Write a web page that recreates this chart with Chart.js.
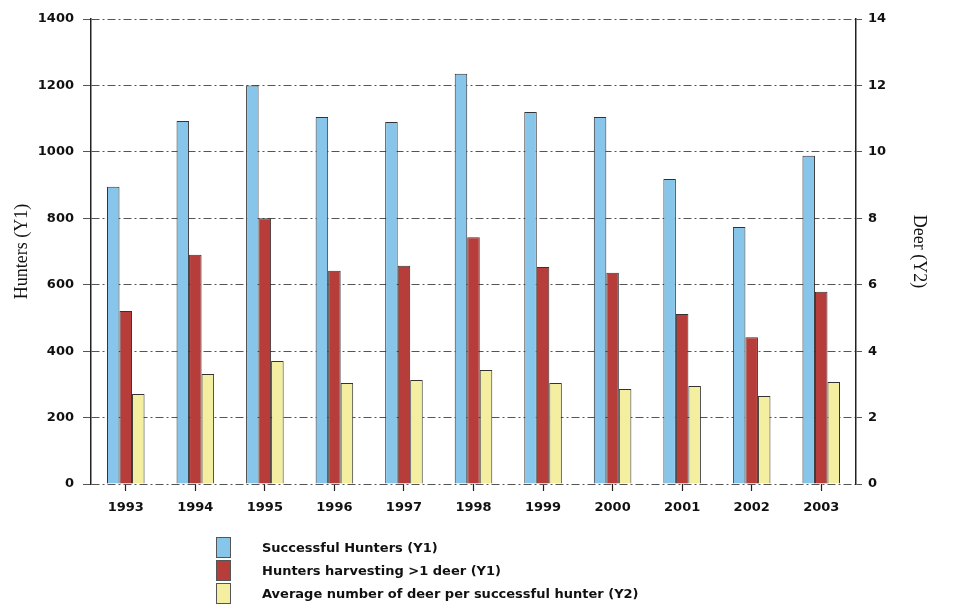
<!DOCTYPE html>
<html>
<head>
<meta charset="utf-8">
<script src="https://cdn.jsdelivr.net/npm/chart.js@4.4.1/dist/chart.umd.min.js"></script>
<style>
  html, body { margin: 0; padding: 0; background: #fff; }
  #wrap { position: relative; width: 969px; height: 604px; }
  #legend { position: absolute; left: 216px; top: 536px; font: bold 13px "DejaVu Sans", sans-serif; color: #111; }
  #legend .row { height: 23px; display: flex; align-items: center; }
  #legend .box { width: 15px; height: 21px; margin-right: 31px; box-sizing: border-box; border: 1px solid #555; }
</style>
</head>
<body>
<div id="wrap">
  <canvas id="hunters_chart" width="969" height="604"></canvas>
  <div id="legend"></div>
</div>
<script>
var years = ['1993', '1994', '1995', '1996', '1997', '1998', '1999', '2000', '2001', '2002', '2003'];
var successful_hunters = [895, 1093, 1200, 1105, 1090, 1235, 1120, 1105, 918, 774, 988];
var hunters_more_than_one = [521, 690, 800, 642, 657, 743, 653, 636, 512, 442, 579];
var avg_deer_per_hunter = [2.71, 3.31, 3.70, 3.04, 3.13, 3.43, 3.04, 2.86, 2.95, 2.65, 3.07];

var series_labels = ['Successful Hunters (Y1)', 'Hunters harvesting >1 deer (Y1)', 'Average number of deer per successful hunter (Y2)'];
var series_colors = ['#87c6ea', '#b73d3a', '#f4eea0'];

var gridDash = [8, 3, 2, 3];
var tickFont = { family: 'DejaVu Sans', size: 13, weight: 'bold' };
var titleFont = { family: 'Liberation Serif', size: 18 };

var data = {
  labels: years,
  datasets: [
    { label: series_labels[0], data: successful_hunters, backgroundColor: series_colors[0], yAxisID: 'y' },
    { label: series_labels[1], data: hunters_more_than_one, backgroundColor: series_colors[1], yAxisID: 'y' },
    { label: series_labels[2], data: avg_deer_per_hunter, backgroundColor: series_colors[2], yAxisID: 'y2' }
  ]
};
data.datasets.forEach(function(ds) {
  ds.borderColor = '#333';
  ds.borderWidth = 1;
  ds.barPercentage = 1;
  ds.categoryPercentage = 0.54;
});

var plainNumber = function(value) { return String(value); };

var chart = new Chart(document.getElementById('hunters_chart').getContext('2d'), {
  type: 'bar',
  data: data,
  options: {
    responsive: false,
    animation: false,
    devicePixelRatio: 1,
    layout: { padding: { top: 19, left: 11, right: 39, bottom: 90 } },
    plugins: {
      legend: { display: false },
      tooltip: { enabled: false }
    },
    scales: {
      x: {
        grid: { display: true, drawOnChartArea: false, offset: false, tickLength: 7, tickColor: '#222', tickWidth: 1.2 },
        border: { display: false },
        ticks: { font: tickFont, color: '#111', padding: 9, maxRotation: 0 },
        afterFit: function(scale) { scale.height = 30; }
      },
      y: {
        position: 'left',
        min: 0,
        max: 1400,
        ticks: { stepSize: 200, font: tickFont, color: '#111', padding: 9, callback: plainNumber },
        grid: { color: '#555', lineWidth: 1, tickLength: 8, tickBorderDash: gridDash },
        border: { display: true, color: '#222', width: 1.5, dash: gridDash },
        title: { display: true, text: 'Hunters (Y1)', font: titleFont, color: '#111', padding: 0 },
        afterFit: function(scale) { scale.width = 80; }
      },
      y2: {
        position: 'right',
        min: 0,
        max: 14,
        ticks: { stepSize: 2, font: tickFont, color: '#111', padding: 6, callback: plainNumber },
        grid: { drawOnChartArea: false, color: '#555', tickLength: 6, tickBorderDash: gridDash },
        border: { display: true, color: '#222', width: 1.5 },
        title: { display: true, text: 'Deer (Y2)', font: titleFont, color: '#111', padding: 0 },
        afterFit: function(scale) { scale.width = 74; }
      }
    }
  }
});

// legend as a plain list, one series per row like the original
var legendDiv = document.getElementById('legend');
data.datasets.forEach(function(ds) {
  var row = document.createElement('div');
  row.className = 'row';
  var box = document.createElement('span');
  box.className = 'box';
  box.style.background = ds.backgroundColor;
  var txt = document.createElement('span');
  txt.textContent = ds.label;
  row.appendChild(box);
  row.appendChild(txt);
  legendDiv.appendChild(row);
});
</script>
</body>
</html>
